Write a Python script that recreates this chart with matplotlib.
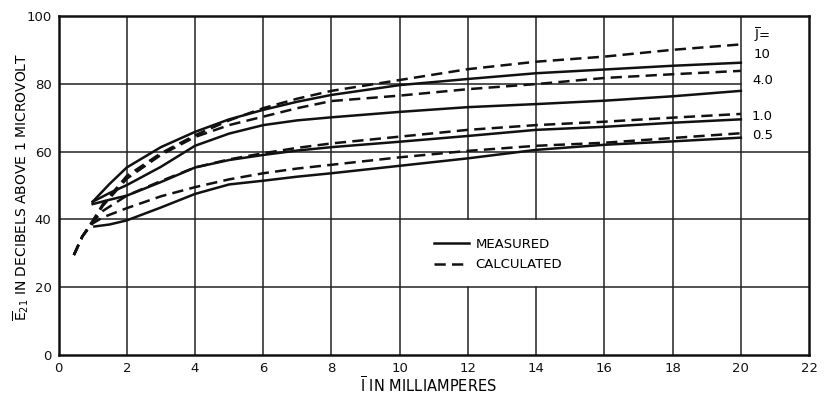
import matplotlib
matplotlib.use("Agg")
import matplotlib.pyplot as plt
from matplotlib.lines import Line2D

plt.rcParams['font.family'] = ['DejaVu Sans']
plt.rcParams['mathtext.fontset'] = 'dejavusans'

# measured (solid) curves
x_meas = [1.0, 1.5, 2, 3, 4, 5, 6, 7, 8, 10, 12, 14, 16, 18, 20]
meas_10 = [45.2, 50.5, 55.3, 61.3, 65.8, 69.5, 72.3, 74.7, 76.7, 79.6, 81.4, 83.1, 84.2, 85.3, 86.2]
meas_4 = [45.2, 47.8, 50.1, 55.5, 61.7, 65.3, 67.8, 69.2, 70.1, 71.7, 73.1, 74.0, 75.0, 76.3, 77.9]
meas_1 = [44.5, 45.8, 47.0, 51.0, 55.3, 57.5, 59.0, 60.3, 61.3, 62.9, 64.6, 66.4, 67.3, 68.5, 69.5]
x_meas_05 = [1.05, 1.5, 2, 3, 4, 5, 6, 7, 8, 10, 12, 14, 16, 18, 20]
meas_05 = [37.9, 38.5, 39.7, 43.5, 47.5, 50.3, 51.4, 52.6, 53.6, 55.8, 58.0, 60.5, 62.0, 63.0, 64.1]

# calculated (dashed) curves
x_calc = [0.45, 0.7, 1.0, 1.3, 2, 3, 4, 5, 6, 7, 8, 10, 12, 14, 16, 18, 20]
calc_10 = [29.5, 35.0, 39.5, 44.5, 52.8, 59.5, 64.8, 69.2, 72.8, 75.6, 77.9, 81.1, 84.3, 86.5, 88.0, 90.0, 91.6]
calc_4 = [29.5, 35.0, 39.5, 44.0, 52.0, 59.0, 64.3, 67.8, 70.3, 72.8, 74.9, 76.5, 78.4, 79.9, 81.7, 82.8, 83.8]
calc_1 = [29.5, 35.0, 39.2, 42.5, 47.0, 51.3, 55.3, 57.7, 59.5, 61.1, 62.4, 64.4, 66.4, 67.8, 68.8, 70.0, 71.1]
calc_05 = [29.5, 35.0, 38.8, 40.6, 43.3, 46.8, 49.5, 51.8, 53.6, 55.0, 56.1, 58.3, 60.2, 61.7, 62.6, 64.0, 65.4]

j_labels = ["10", "4.0", "1.0", "0.5"]
j_label_y = [88.6, 81.1, 70.2, 64.6]

x_ticks = list(range(0, 23, 2))
y_ticks = list(range(0, 101, 20))

fig = plt.figure(figsize=(8.29, 3.98), dpi=100)
ax = fig.add_axes([0.0706, 0.108, 0.9054, 0.852])
ax.set_xlim(0, 22)
ax.set_ylim(0, 100)

# grid drawn by hand so the label boxes stay blank
gcol = '#222222'
for xv in x_ticks[1:-1]:
    if xv in (12, 14):
        ax.plot([xv, xv], [0, 20], color=gcol, lw=1.1, zorder=1)
        ax.plot([xv, xv], [40, 100], color=gcol, lw=1.1, zorder=1)
    else:
        ax.plot([xv, xv], [0, 100], color=gcol, lw=1.1, zorder=1)
for yv in y_ticks[1:-1]:
    xe = 20 if yv == 80 else 22
    ax.plot([0, xe], [yv, yv], color=gcol, lw=1.1, zorder=1)

lk = dict(color='#111111', lw=1.8, zorder=3)
dk = dict(color='#111111', lw=1.8, zorder=3, dashes=(4.5, 2.5))
ax.plot(x_meas, meas_10, **lk)
ax.plot(x_meas, meas_4, **lk)
ax.plot(x_meas, meas_1, **lk)
ax.plot(x_meas_05, meas_05, **lk)
ax.plot(x_calc, calc_10, **dk)
ax.plot(x_calc, calc_4, **dk)
ax.plot(x_calc, calc_1, **dk)
ax.plot(x_calc, calc_05, **dk)

ax.text(20.63, 94.3, r"$\overline{\mathrm{J}}$=", ha='center', va='center', fontsize=9.5)
for lab, yv in zip(j_labels, j_label_y):
    ax.text(20.63, yv, lab, ha='center', va='center', fontsize=9.5)

handles = [Line2D([], [], color='#111111', lw=1.8),
           Line2D([], [], color='#111111', lw=1.8, dashes=(4.5, 2.5))]
ax.legend(handles, ["MEASURED", "CALCULATED"], loc='upper left',
          bbox_to_anchor=(0.485, 0.38), frameon=False, fontsize=9.5,
          handlelength=2.6, handletextpad=0.5, labelspacing=0.55)

for s in ax.spines.values():
    s.set_linewidth(1.8)
    s.set_color('#111111')
ax.set_xticks(x_ticks)
ax.set_yticks(y_ticks)
ax.tick_params(length=0, labelsize=9.5, pad=5, colors='#111111')

fig.text(0.025, 0.53, r"$\overline{\mathrm{E}}_{21}$ IN DECIBELS ABOVE 1 MICROVOLT",
         rotation=90, ha='center', va='center', fontsize=10)
fig.text(0.517, 0.032, r"$\overline{\mathrm{I}}$ IN MILLIAMPERES", ha='center', va='center', fontsize=10.5)

fig.savefig("out.png", dpi=100)
